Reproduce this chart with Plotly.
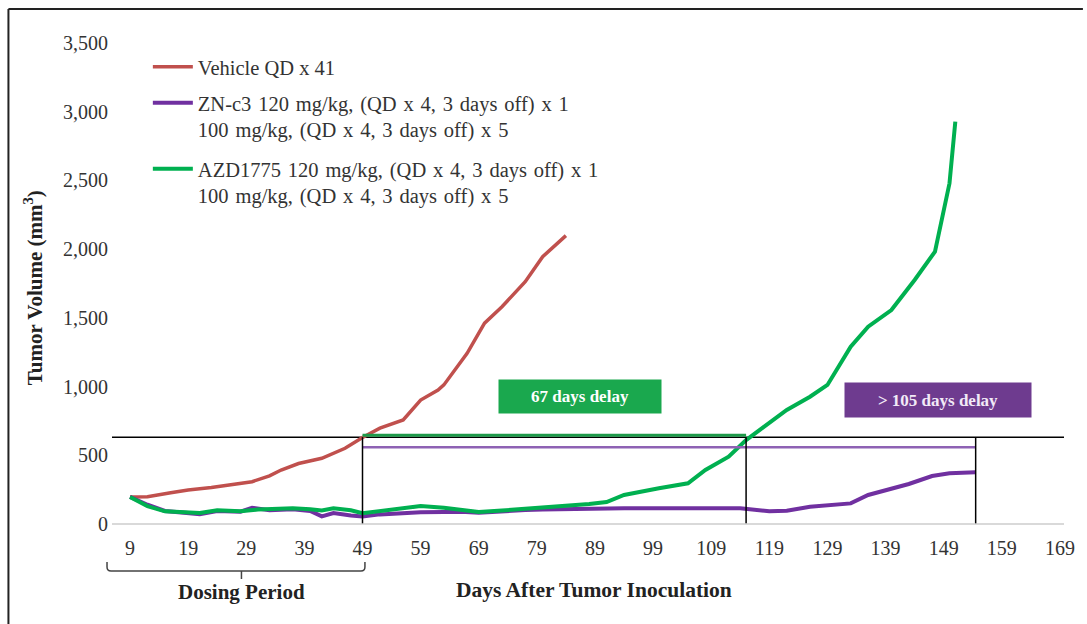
import plotly.graph_objects as go

# ---------------- data ----------------
vehicle_days = [9, 12, 16, 19, 23, 26, 30, 33, 35, 38, 42, 46, 49, 52, 56, 59, 62, 63, 67, 70, 73, 77, 80, 84]
vehicle_vals = [197, 198, 228, 248, 266, 282, 308, 350, 393, 440, 478, 551, 630, 697, 757, 902, 975, 1012, 1242, 1461, 1581, 1763, 1945, 2098]

zn_days = [9, 12, 15, 19, 21, 24, 28, 30, 33, 37, 40, 42, 44, 47, 49, 52, 56, 59, 63, 66, 69, 73, 77, 80, 84, 88,
           94, 98, 105, 110, 114, 119, 122, 126, 130, 133, 136, 140, 143, 147, 150, 154.5]
zn_vals = [197, 140, 95, 78, 72, 95, 90, 118, 100, 108, 95, 56, 80, 62, 55, 70, 80, 85, 88, 90, 82, 95, 102, 106, 110, 114,
           114, 114, 116, 116, 114, 92, 97, 126, 138, 150, 211, 260, 291, 349, 369, 376]

azd_days = [9, 12, 15, 19, 21, 24, 28, 31, 34, 37, 40, 42, 44, 47, 49, 52, 56, 59, 63, 66, 69, 73, 77, 80, 84, 88,
            91, 94, 100, 105, 108, 112, 115, 122, 126, 129, 133, 136, 140, 144, 147.5, 150, 151]
azd_vals = [197, 130, 92, 82, 80, 100, 93, 105, 112, 115, 108, 98, 115, 100, 78, 95, 118, 130, 118, 105, 88, 98, 110, 118, 128, 145,
            160, 211, 260, 296, 393, 490, 611, 830, 926, 1012, 1290, 1436, 1557, 1776, 1982, 2479, 2928]

SP = "\u2004"  # slightly wider space, matching the reference's looser word spacing
series_names = [
    "Vehicle QD x 41",
    ("ZN-c3 120 mg/kg, (QD x 4, 3 days off) x 1<br>100 mg/kg, (QD x 4, 3 days off) x 5").replace(" ", SP),
    ("AZD1775 120 mg/kg, (QD x 4, 3 days off) x 1<br>100 mg/kg, (QD x 4, 3 days off) x 5").replace(" ", SP),
]

x_ticks = [9, 19, 29, 39, 49, 59, 69, 79, 89, 99, 109, 119, 129, 139, 149, 159, 169]
y_ticks = [0, 500, 1000, 1500, 2000, 2500, 3000, 3500]

# reference markers (days / volume levels)
threshold_level = 632
azd_delay_level = 645
zn_delay_level = 558
dosing_end_day = 49
azd_cross_day = 115
zn_end_day = 154.5

RED = "#C0504D"
PURPLE = "#7030A0"
GREEN = "#00B050"
FONT = "Liberation Serif"
TXT = "#333333"

W, HT = 1087, 624
ML, MR, MT, MB = 112, 19, 43, 100
PW = W - ML - MR
PH = HT - MT - MB


def px(pix):  # pixel x -> paper x
    return (pix - ML) / PW


def py(pix):  # pixel y -> paper y
    return (HT - MB - pix) / PH


fig = go.Figure()
fig.add_trace(go.Scatter(x=vehicle_days, y=vehicle_vals, mode="lines", name=series_names[0],
                         line=dict(color=RED, width=3.5), legend="legend"))
fig.add_trace(go.Scatter(x=zn_days, y=zn_vals, mode="lines", name=series_names[1],
                         line=dict(color=PURPLE, width=4), legend="legend2"))
fig.add_trace(go.Scatter(x=azd_days, y=azd_vals, mode="lines", name=series_names[2],
                         line=dict(color=GREEN, width=4), legend="legend3"))

shapes = []
# horizontal threshold line
shapes.append(dict(type="line", xref="paper", yref="y", x0=0, x1=1, y0=threshold_level, y1=threshold_level,
                   line=dict(color="black", width=1.5), layer="below"))
# delay lines
shapes.append(dict(type="line", xref="x", yref="y", x0=dosing_end_day, x1=azd_cross_day,
                   y0=azd_delay_level, y1=azd_delay_level, line=dict(color="#1E9A4A", width=3)))
shapes.append(dict(type="line", xref="x", yref="y", x0=dosing_end_day, x1=zn_end_day,
                   y0=zn_delay_level, y1=zn_delay_level, line=dict(color="#8E62B4", width=2.5)))
# vertical lines
for d in [dosing_end_day, azd_cross_day, zn_end_day]:
    shapes.append(dict(type="line", xref="x", yref="y", x0=d, x1=d, y0=threshold_level, y1=5,
                       line=dict(color="black", width=1.5)))

# dosing bracket (brace below the axis)
bx0, bx1, bmid = 107, 366, 242
by_top, by_bar, by_tip = 562, 571, 579
r = 4
brace = ("M {a},{b} L {a},{c} Q {a},{d} {e},{d} L {f},{d} L {g},{d} Q {h},{d} {h},{c} L {h},{b}").format(
    a=px(bx0), b=py(by_top), c=py(by_bar - r), d=py(by_bar), e=px(bx0 + r), f=px(bmid), g=px(bx1 - r), h=px(bx1))
shapes.append(dict(type="path", xref="paper", yref="paper", path=brace, line=dict(color="#444444", width=1.5)))
shapes.append(dict(type="line", xref="paper", yref="paper", x0=px(bmid), x1=px(bmid), y0=py(by_bar), y1=py(by_tip),
                   line=dict(color="#444444", width=1.5)))
# outer frame (top and left)
shapes.append(dict(type="line", xref="paper", yref="paper", x0=px(8), x1=px(W),
                   y0=py(9), y1=py(9), line=dict(color="#222222", width=2)))
shapes.append(dict(type="line", xref="paper", yref="paper", x0=px(8), x1=px(8),
                   y0=py(9), y1=py(HT), line=dict(color="#222222", width=2)))

annotations = [
    dict(text="<b>67 days delay</b>", x=86.5, y=930, xref="x", yref="y", showarrow=False,
         xanchor="center", yanchor="middle",
         bgcolor="#1AA84E", width=162, height=33, borderpad=0, font=dict(family=FONT, size=17, color="white")),
    dict(text="<b>&gt; 105 days delay</b>", x=148.0, y=905, xref="x", yref="y", showarrow=False,
         xanchor="center", yanchor="middle",
         bgcolor="#6E3B8F", width=186, height=34, borderpad=0, font=dict(family=FONT, size=17, color="#F2EAF7")),
    dict(text="<b>Tumor Volume (mm<sup>3</sup>)</b>", x=px(33), y=py(288), xref="paper", yref="paper",
         xanchor="center", yanchor="middle",
         showarrow=False, textangle=-90, font=dict(family=FONT, size=21, color="#222222")),
    dict(text="<b>Days After Tumor Inoculation</b>", x=px(596), y=py(590), xref="paper", yref="paper",
         xanchor="center", yanchor="middle",
         showarrow=False, font=dict(family=FONT, size=21.5, color="#222222")),
    dict(text="<b>Dosing Period</b>", x=px(242), y=py(592), xref="paper", yref="paper",
         xanchor="center", yanchor="middle",
         showarrow=False, font=dict(family=FONT, size=21, color="#222222")),
]

leg_common = dict(xanchor="left", yanchor="top", bgcolor="rgba(0,0,0,0)",
                  font=dict(family=FONT, size=20.5, color=TXT), valign="top", itemwidth=40)

fig.update_layout(
    width=W, height=HT,
    margin=dict(l=ML, r=MR, t=MT, b=MB),
    paper_bgcolor="white", plot_bgcolor="white",
    font=dict(family=FONT, size=20, color=TXT),
    showlegend=True,
    legend=dict(x=px(148), y=py(47), **leg_common),
    legend2=dict(x=px(148), y=py(83), **leg_common),
    legend3=dict(x=px(148), y=py(149), **leg_common),
    xaxis=dict(range=[5.9, 169.7], tickvals=x_ticks, ticktext=[str(t) for t in x_ticks], showgrid=False,
               zeroline=False, showline=False, ticks="", ticklabelstandoff=10,
               tickfont=dict(family=FONT, size=20, color=TXT)),
    yaxis=dict(range=[0, 3500], tickvals=y_ticks, tickformat=",", showgrid=False,
               zeroline=True, zerolinecolor="#D9D9D9", zerolinewidth=1.5, showline=False, ticks="",
               ticklabelstandoff=3, tickfont=dict(family=FONT, size=20, color=TXT)),
    shapes=shapes,
    annotations=annotations,
)

fig.write_html("out.html")
